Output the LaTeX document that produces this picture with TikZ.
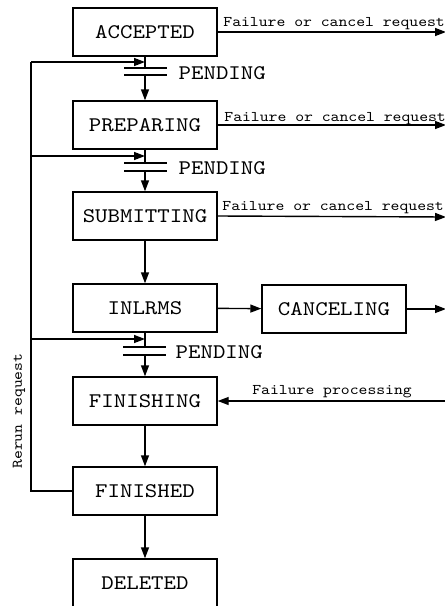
\documentclass[tikz,border=0pt]{standalone}
\usepackage{fontspec}
\setmonofont[FakeStretch=1.14]{lmmono10-regular.otf}
\usetikzlibrary{arrows.meta}

\begin{document}
\begin{tikzpicture}[x=0.5pt, y=-0.5pt, line width=0.7pt,
    state/.style ={rectangle, draw, minimum width=72pt, minimum height=24pt,
      font=\ttfamily\fontsize{10.4}{12}\selectfont},
    note/.style ={font=\ttfamily\fontsize{7.4}{9}\selectfont, inner sep=1pt},
    pending/.style ={font=\ttfamily\fontsize{10.4}{12}\selectfont, inner sep=0pt, anchor=west},
    flow/.style ={-{Triangle[length=5.5pt,width=4pt]}}]
   \useasboundingbox (0,0) rectangle (445,606);
   \node[state] (ACC)  at (145,32)  {ACCEPTED};
   \node[state] (PRE)  at (145,125) {PREPARING};
   \node[state] (SUB)  at (145,216) {SUBMITTING};
   \node[state] (INL)  at (145,308) {INLRMS};
   \node[state] (CAN)  at (334,309) {CANCELING};
   \node[state] (FIN)  at (145,401) {FINISHING};
   \node[state] (FID)  at (145,491) {FINISHED};
   \node[state] (DEL)  at (145,583) {DELETED};

   % pending points
   \coordinate (T1) at (145,62);  \coordinate (P1) at (145,68);  \coordinate (Q1) at (145,75);
   \coordinate (T2) at (145,156); \coordinate (P2) at (145,163); \coordinate (Q2) at (145,171);
   \coordinate (T3) at (145,339); \coordinate (P3) at (145,347); \coordinate (Q3) at (145,355);
   \coordinate (L1) at (31,62);   \coordinate (L2) at (31,156);  \coordinate (L3) at (31,339);
   \coordinate (O1) at (446,32);  \coordinate (O2) at (446,125); \coordinate (O3) at (446,217);
   \coordinate (O4) at (446,309); \coordinate (O5) at (446,401);

   \draw (ACC) to (P1);
   \draw ([xshift=-10.5pt]P1) -- ([xshift=11pt]P1);
   \draw ([xshift=-10.5pt]Q1) -- ([xshift=11pt]Q1);
   \draw[flow] (Q1) to (PRE);
   \node[pending] (PL1) at (178,73) {PENDING};

   \draw (PRE) to (P2);
   \draw ([xshift=-10.5pt]P2) -- ([xshift=11pt]P2);
   \draw ([xshift=-10.5pt]Q2) -- ([xshift=11pt]Q2);
   \draw[flow] (Q2) to (SUB);
   \node[pending] (PL2) at (178,168) {PENDING};

   \draw[flow] (SUB) to (INL);
   \draw[flow] (INL) to (CAN);
   \draw[flow] (CAN) to (O4);

   \draw (INL) to (P3);
   \draw ([xshift=-11pt]P3) -- ([xshift=10.5pt]P3);
   \draw ([xshift=-11pt]Q3) -- ([xshift=10.5pt]Q3);
   \draw[flow] (Q3) to (FIN);
   \node[pending] (PL3) at (175,352) {PENDING};

   \draw[flow] (FIN) to (FID);
   \draw[flow] (FID) to (DEL);

   % failures to the right
   \draw[flow] (ACC.east) -- node[note, pos=0, anchor=south west, xshift=1.5pt] {Failure or cancel request} (O1);
   \draw[flow] (PRE.east) -- node[note, pos=0, anchor=south west, xshift=2pt, yshift=-1pt] {Failure or cancel request} (O2);
   \draw[flow] (SUB.east) -- node[note, pos=0, anchor=south west, xshift=1pt] {Failure or cancel request} (O3);
   \draw[flow] (O5) -- node[note, pos=0.86, anchor=south west] {Failure processing} (FIN.east);

   % rerun
   \draw (FID.west) -| (L1);
   \draw[flow] (L1) to (T1);
   \draw[flow] (L2) to (T2);
   \draw[flow] (L3) to (T3);
   \node[note, rotate=90] (RR) at (19,411) {Rerun request};
 \end{tikzpicture}
\end{document}
